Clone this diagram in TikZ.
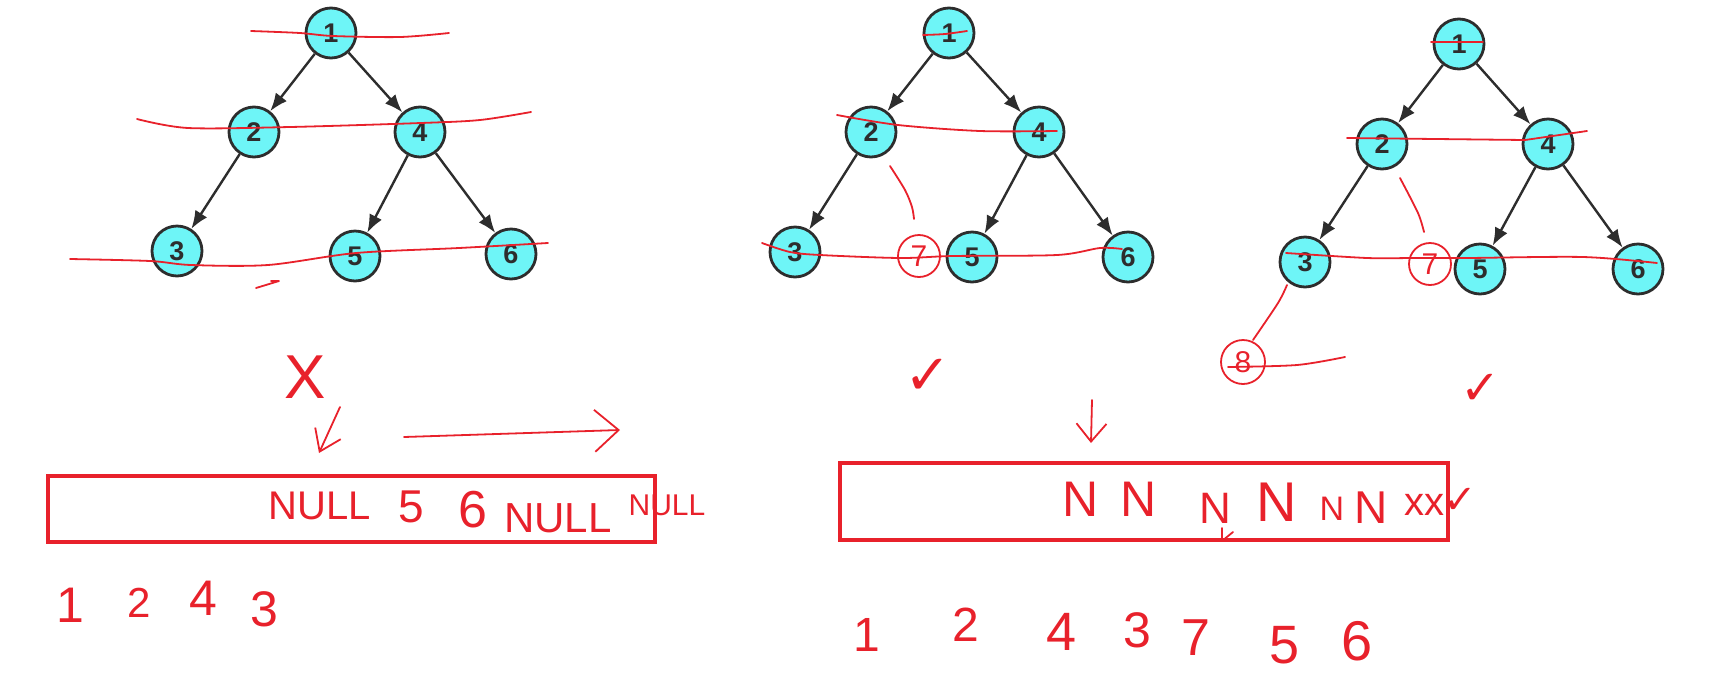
\documentclass[tikz,border=0pt]{standalone}
\usepackage{fontspec}
\setmainfont{Liberation Sans}
\newfontfamily\symfont{DejaVu Sans}
\usepackage{xcolor}
\usetikzlibrary{arrows.meta}
\definecolor{nodecyan}{RGB}{110,245,247}
\definecolor{nodeline}{RGB}{45,45,45}
\definecolor{penred}{RGB}{232,33,43}
\tikzset{tree node/.style={circle,draw=nodeline,fill=nodecyan,line width=2.8pt,minimum size=50pt,inner sep=0pt,text=nodeline,font=\fontsize{27}{27}\selectfont\bfseries},
	tree edge/.style={draw=nodeline,line width=2.4pt,-{Latex[length=18pt,width=14pt]}},
	pen/.style={draw=penred,line width=1.8pt,line cap=round,line join=round},
	pen text/.style={text=penred,inner sep=0pt,font=\fontsize{40}{40}\selectfont},
	pen circle/.style={circle,draw=penred,line width=1.8pt,minimum size=42pt,inner sep=0pt,text=penred,font=\fontsize{30}{30}\selectfont},
	queue box/.style={draw=penred,line width=4pt,inner sep=0pt}}

\begin{document}
\begin{tikzpicture}[x=1pt,y=-1pt]
	\useasboundingbox (0,0) rectangle (1709,673);
	\node[tree node] (a1) at (331,33) {1};
	\node[tree node] (a2) at (254,132) {2};
	\node[tree node] (a4) at (420,132) {4};
	\node[tree node] (a3) at (177,251) {3};
	\node[tree node] (a5) at (355,256) {5};
	\node[tree node] (a6) at (511,254) {6};
	\draw[tree edge] (a1) -- (a2);
	\draw[tree edge] (a1) -- (a4);
	\draw[tree edge] (a2) -- (a3);
	\draw[tree edge] (a4) -- (a5);
	\draw[tree edge] (a4) -- (a6);
	\draw[pen] plot[smooth] coordinates {(251,31) (300,33) (333,36) (400,37) (449,33)};
	\draw[pen] plot[smooth] coordinates {(137,119) (188,128) (290,127) (421,123) (480,120) (531,112)};
	\draw[pen] plot[smooth] coordinates {(70,259) (150,261) (191,265) (268,265) (356,253) (459,248) (548,243)};
	\draw[pen] (256,288) -- (279,281) -- (271,281);

	\node[tree node] (b1) at (949,33) {1};
	\node[tree node] (b2) at (871,132) {2};
	\node[tree node] (b4) at (1039,132) {4};
	\node[tree node] (b3) at (795,252) {3};
	\node[tree node] (b5) at (972,257) {5};
	\node[tree node] (b6) at (1128,257) {6};
	\node[pen circle] (b7) at (919,256) {7};
	\draw[tree edge] (b1) -- (b2);
	\draw[tree edge] (b1) -- (b4);
	\draw[tree edge] (b2) -- (b3);
	\draw[tree edge] (b4) -- (b5);
	\draw[tree edge] (b4) -- (b6);
	\draw[pen] plot[smooth] coordinates {(923,35) (945,34) (967,31)};
	\draw[pen] plot[smooth] coordinates {(837,115) (898,125) (980,131) (1057,131)};
	\draw[pen] plot[smooth] coordinates {(890,166) (905,190) (912,207) (914,219)};
	\draw[pen] plot[smooth] coordinates {(762,243) (790,252) (820,255) (900,258) (953,256) (1057,255) (1100,248) (1122,249)};

	\node[tree node] (c1) at (1459,44) {1};
	\node[tree node] (c2) at (1382,144) {2};
	\node[tree node] (c4) at (1548,144) {4};
	\node[tree node] (c3) at (1305,262) {3};
	\node[tree node] (c5) at (1480,269) {5};
	\node[tree node] (c6) at (1638,269) {6};
	\node[pen circle] (c7) at (1430,264) {7};
	\node[pen circle,minimum size=44pt] (c8) at (1243,362) {8};
	\draw[tree edge] (c1) -- (c2);
	\draw[tree edge] (c1) -- (c4);
	\draw[tree edge] (c2) -- (c3);
	\draw[tree edge] (c4) -- (c5);
	\draw[tree edge] (c4) -- (c6);
	\draw[pen] (1431,42) -- (1483,42);
	\draw[pen] (1347,138) -- (1525,140) -- (1587,131);
	\draw[pen] plot[smooth] coordinates {(1400,178) (1418,213) (1424,232)};
	\draw[pen] plot[smooth] coordinates {(1286,253) (1367,258) (1413,258) (1467,258) (1583,257) (1657,263)};
	\draw[pen] plot[smooth] coordinates {(1287,285) (1278,303) (1253,340)};
	\draw[pen] plot[smooth] coordinates {(1228,367) (1297,365) (1345,357)};

	\node[pen text,font=\fontsize{62}{62}\selectfont] (wrong) at (305,377) {X};
	\node[pen text,font=\symfont\fontsize{56}{56}\selectfont] (ok1) at (928,377) {✓};
	\node[pen text,font=\symfont\fontsize{48}{48}\selectfont] (ok2) at (1481,389) {✓};
	\coordinate (da1) at (340,407);
	\coordinate (da2) at (319,453);
	\draw[pen,-{Straight Barb[length=20pt,width=28pt]}] (da1) -- (da2);
	\coordinate (ra1) at (404,437);
	\coordinate (ra2) at (620,430);
	\draw[pen,-{Straight Barb[length=24pt,width=42pt]}] (ra1) -- (ra2);
	\coordinate (db1) at (1092,400);
	\coordinate (db2) at (1091,443);
	\draw[pen,-{Straight Barb[length=18pt,width=30pt]}] (db1) -- (db2);

	\node[queue box,minimum width=607pt,minimum height=66pt] (qa) at (351.5,509) {};
	\node[pen text] (qa1) at (320,506) {NULL};
	\node[pen text,font=\fontsize{46}{46}\selectfont] (qa2) at (411,507) {5};
	\node[pen text,font=\fontsize{52}{52}\selectfont] (qa3) at (473,510) {6};
	\node[pen text,font=\fontsize{42}{42}\selectfont] (qa4) at (558,518) {NULL};
	\node[pen text,font=\fontsize{30}{30}\selectfont] (qa5) at (667,505) {NULL};

	\node[queue box,minimum width=608pt,minimum height=77pt] (qb) at (1144,501.5) {};
	\node[pen text,font=\fontsize{50}{50}\selectfont] (qb1) at (1081,499) {N};
	\node[pen text,font=\fontsize{50}{50}\selectfont] (qb2) at (1139,499) {N};
	\node[pen text,font=\fontsize{44}{44}\selectfont] (qb3) at (1215,508) {N};
	\node[pen text,font=\fontsize{56}{56}\selectfont] (qb4) at (1277,502) {N};
	\node[pen text,font=\fontsize{34}{34}\selectfont] (qb5) at (1332,509) {N};
	\node[pen text,font=\fontsize{46}{46}\selectfont] (qb6) at (1371,508) {N};
	\node[pen text,font=\fontsize{40}{40}\selectfont] (qb7) at (1424,505) {xx};
	\node[pen text,font=\symfont\fontsize{40}{40}\selectfont] (qb8) at (1460,501) {✓};
	\draw[pen] (1222,528) -- (1222,541) -- (1233,532);

	\node[pen text,font=\fontsize{50}{50}\selectfont] (la1) at (70,605) {1};
	\node[pen text,font=\fontsize{42}{42}\selectfont] (la2) at (139,603) {2};
	\node[pen text,font=\fontsize{50}{50}\selectfont] (la3) at (203,598) {4};
	\node[pen text,font=\fontsize{50}{50}\selectfont] (la4) at (264,609) {3};

	\node[pen text,font=\fontsize{48}{48}\selectfont] (lb1) at (867,635) {1};
	\node[pen text,font=\fontsize{48}{48}\selectfont] (lb2) at (966,625) {2};
	\node[pen text,font=\fontsize{54}{54}\selectfont] (lb3) at (1062,632) {4};
	\node[pen text,font=\fontsize{50}{50}\selectfont] (lb4) at (1137,630) {3};
	\node[pen text,font=\fontsize{52}{52}\selectfont] (lb5) at (1196,638) {7};
	\node[pen text,font=\fontsize{54}{54}\selectfont] (lb6) at (1285,645) {5};
	\node[pen text,font=\fontsize{56}{56}\selectfont] (lb7) at (1357,641) {6};
\end{tikzpicture}
\end{document}
